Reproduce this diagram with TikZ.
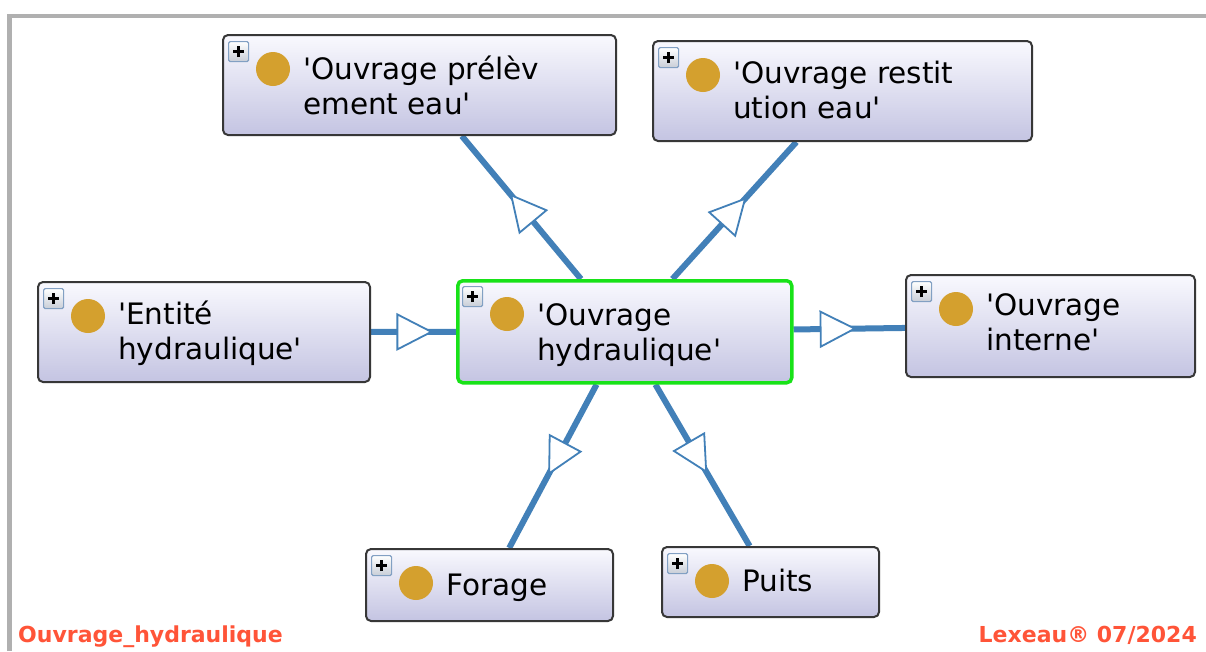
\documentclass[tikz,border=0pt]{standalone}
\usepackage{fontspec}
\newfontfamily\nf{DejaVu Sans}
\usetikzlibrary{decorations.markings,backgrounds}
\definecolor{edgeblue}{RGB}{66,128,184}
\definecolor{boxtop}{RGB}{249,249,254}
\definecolor{boxbot}{RGB}{196,196,226}
\definecolor{boxline}{RGB}{55,55,55}
\definecolor{dotcol}{RGB}{212,160,46}
\definecolor{selgreen}{RGB}{24,226,24}
\definecolor{footred}{RGB}{255,84,56}
\definecolor{framegray}{RGB}{176,176,176}
\definecolor{plusline}{RGB}{130,160,195}
\definecolor{plusbot}{RGB}{200,205,215}
\tikzset{
  clsbox/.style={rectangle, rounded corners=5pt, draw=boxline, line width=2pt, top color=boxtop, bottom color=boxbot, inner sep=0pt},
  selbox/.style={clsbox, draw=selgreen, line width=3.5pt},
  lbl/.style={anchor=base west, inner sep=0pt, font=\nf\fontsize{29.5}{35}\selectfont},
  classdot/.style={circle, fill=dotcol, minimum size=34pt, inner sep=0pt},
  plusbox/.style={rectangle, rounded corners=1.5pt, draw=plusline, line width=1.2pt, top color=white, bottom color=plusbot, minimum size=20pt, inner sep=0pt, anchor=north west},
  plusmark/.style={draw=black, line width=2.4pt},
  linkline/.style={draw=edgeblue, line width=6pt},
  midtri/.style={postaction=decorate, decoration={markings, mark=at position 0.5 with {\draw[edgeblue, fill=white, line width=1.8pt, line join=miter] (17pt,0pt) -- (-17pt,17.5pt) -- (-17pt,-17.5pt) -- cycle;}}},
  foot/.style={inner sep=0pt, text=footred, font=\nf\bfseries\fontsize{22}{26}\selectfont}
}
\newcommand\classbox[6]{%
  \node[#2, minimum width=#5pt, minimum height=#6pt, anchor=north west] (#1) at (#3,#4) {};
  \node[plusbox] (#1-p) at ([shift={(6,7)}]#1.north west) {};
  \draw[plusmark] ([xshift=-5.5pt]#1-p.center) -- ([xshift=5.5pt]#1-p.center);
  \draw[plusmark] ([yshift=-5.5pt]#1-p.center) -- ([yshift=5.5pt]#1-p.center);
  \node[classdot] (#1-d) at ([shift={(51,35)}]#1.north west) {};
}
\begin{document}
\begin{tikzpicture}[x=1pt,y=-1pt]
\useasboundingbox (0,0) rectangle (1206,651);
\begin{pgfonlayer}{background}
\fill[white] (0,0) rectangle (1206,651);
\end{pgfonlayer}
\draw[framegray, line width=4.5pt] (9.5,651) -- (9.5,16) -- (1206,16);

\classbox{pre}{clsbox}{222}{34}{393}{100}
\classbox{res}{clsbox}{652}{40}{379}{100}
\classbox{ent}{clsbox}{37}{281}{332}{100}
\classbox{hyd}{selbox}{456}{279}{334}{102}
\classbox{int}{clsbox}{905}{274}{289}{102}
\classbox{forage}{clsbox}{365}{548}{247}{72}
\classbox{puits}{clsbox}{661}{546}{217}{70}

\node[lbl] (pre-t1) at (303,79) {'Ouvrage prélèv};
\node[lbl] (pre-t2) at (303,114) {ement eau'};
\node[lbl] (res-t1) at (733,83) {'Ouvrage restit};
\node[lbl] (res-t2) at (733,118) {ution eau'};
\node[lbl] (ent-t1) at (118,324) {'Entité};
\node[lbl] (ent-t2) at (118,359) {hydraulique'};
\node[lbl] (hyd-t1) at (537,325) {'Ouvrage};
\node[lbl] (hyd-t2) at (537,360) {hydraulique'};
\node[lbl] (int-t1) at (986,315) {'Ouvrage};
\node[lbl] (int-t2) at (986,350) {interne'};
\node[lbl] (forage-t) at (446,595) {Forage};
\node[lbl] (puits-t) at (742,591) {Puits};

\begin{pgfonlayer}{background}
\draw[linkline] (hyd) -- (pre);
\draw[linkline] (hyd) -- (res);
\draw[linkline] (ent) -- (hyd);
\draw[linkline] (hyd) -- (int);
\draw[linkline] (hyd) -- (forage);
\draw[linkline] (hyd) -- (puits);
\end{pgfonlayer}
\path[midtri] (hyd.center) -- (pre.center);
\path[midtri] (hyd.center) -- (res.center);
\path[midtri] (ent.center) -- (hyd.center);
\path[midtri] (hyd.center) -- (int.center);
\path[midtri] (hyd.center) -- (forage.center);
\path[midtri] (hyd.center) -- (puits.center);

\node[foot, anchor=base west] (fl) at (18,642) {Ouvrage\_hydraulique};
\node[foot, anchor=base east] (fr) at (1197,642) {Lexeau® 07/2024};
\end{tikzpicture}
\end{document}
